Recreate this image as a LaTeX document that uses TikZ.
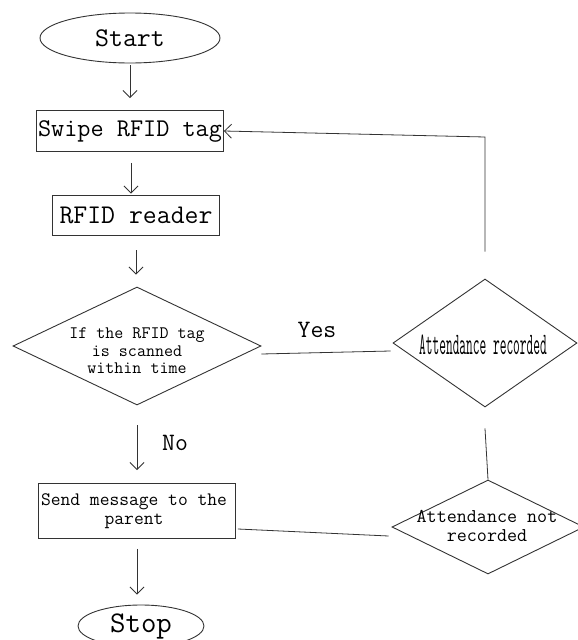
\documentclass[tikz,border=0pt]{standalone}
\usetikzlibrary{shapes.geometric,arrows.meta}
\definecolor{ink}{HTML}{333333}
\tikzset{
  every node/.style={font=\ttfamily, text=black},
  lineink/.style={draw=ink, line width=0.9pt},
  term/.style={ellipse, lineink, inner sep=0pt},
  procbox/.style={rectangle, lineink, inner sep=0pt},
  decis/.style={diamond, lineink, inner sep=0pt},
  dtext/.style={align=center, inner sep=0pt},
  flow/.style={draw=ink, line width=0.8pt, -{Straight Barb[length=7pt,width=14pt]}},
  link/.style={draw=ink, line width=0.8pt},
  biglabel/.style={font=\ttfamily\fontsize{25}{28}\selectfont, inner sep=0pt}
}
\begin{document}
\begin{tikzpicture}[x=1pt,y=-1pt]
\useasboundingbox (0,0) rectangle (578,640);
% nodes
\node[term, minimum width=180pt, minimum height=50pt, font=\ttfamily\fontsize{27}{28}\selectfont] (start) at (130,38) {Start};
\node[procbox, minimum width=187pt, minimum height=41pt, font=\ttfamily\fontsize{25.5}{28}\selectfont] (swipe) at (130,131) {Swipe RFID tag};
\node[procbox, minimum width=167pt, minimum height=40pt, font=\ttfamily\fontsize{27}{28}\selectfont] (reader) at (136,215) {RFID reader};
\node[decis, minimum width=248pt, minimum height=118pt] (check) at (137,346) {};
\node[dtext, font=\ttfamily\fontsize{17.5}{17.5}\selectfont] (checkt) at (137,351) {If the RFID tag\\is scanned\\within time};
\node[decis, minimum width=184pt, minimum height=128pt] (att) at (485,343) {};
\node[dtext] (attt) at (483,345) {\scalebox{0.45}[1.08]{\fontsize{29}{30}\selectfont Attendance recorded}};
\node[procbox, minimum width=197pt, minimum height=55pt] (msg) at (137,511) {};
\node[dtext, font=\ttfamily\fontsize{19}{19.5}\selectfont] (msgt) at (134,511) {Send message to the\\parent};
\node[decis, minimum width=192pt, minimum height=94pt] (notatt) at (488,527) {};
\node[dtext, font=\ttfamily\fontsize{19.5}{18.5}\selectfont] (notattt) at (487,526) {Attendance not\\recorded};
\node[term, minimum width=126pt, minimum height=42pt, font=\ttfamily\fontsize{30}{30}\selectfont] (stop) at (141,626) {Stop};
% labels
\node[biglabel] (yes) at (317,330) {Yes};
\node[biglabel] (no) at (175,443) {No};
% connectors
\draw[flow, shorten <=2pt, shorten >=12pt] (start.south) -- (swipe.north);
\draw[flow, shorten <=11pt, shorten >=1pt] ([xshift=1pt]swipe.south) -- ([xshift=1pt]swipe.south |- reader.north);
\draw[flow, shorten <=15pt, shorten >=12pt] (reader.south) -- (reader.south |- check.north);
\draw[flow, shorten <=20pt, shorten >=13pt] (check.south) -- (check.south |- msg.north);
\draw[flow, shorten <=10pt, shorten >=10pt] (msg.south) -- (msg.south |- stop.north);
\draw[link] ([yshift=-8pt]check.east) -- ([xshift=-2pt,yshift=-8pt]att.west);
\coordinate (corner) at (485,137);
\draw[flow] ([yshift=27pt]att.north) -- (corner) -- (swipe.east);
\draw[link] ([yshift=-21pt]att.south) -- (notatt.north);
\draw[link] ([xshift=2pt,yshift=-18pt]msg.east) -- ([xshift=-3pt,yshift=-9pt]notatt.west);
\end{tikzpicture}
\end{document}
